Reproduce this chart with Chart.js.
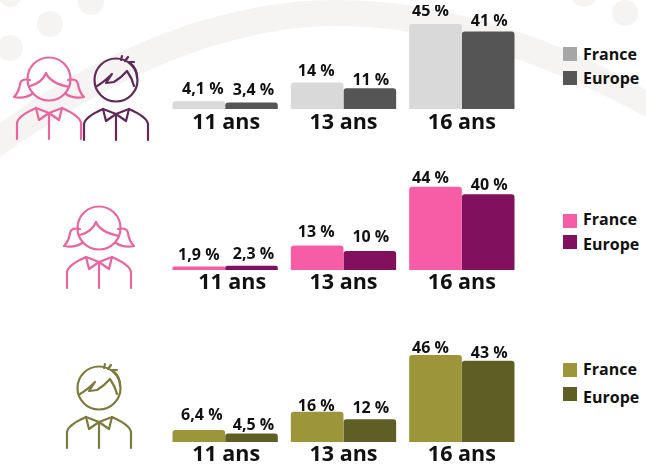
<!DOCTYPE html>
<html lang="fr">
<head>
<meta charset="utf-8">
<title>Consommation par âge</title>
<script src="https://cdn.jsdelivr.net/npm/chart.js@4"></script>
<style>
    html, body { margin: 0; padding: 0; background: #fff; }
    #page { position: relative; width: 646px; height: 465px; overflow: hidden; font-family: "Open Sans", sans-serif; }
    #decor, #icons { position: absolute; left: 0; top: 0; }
    canvas { position: absolute; left: 166px; }
    .swatch { position: absolute; left: 563px; width: 14px; height: 14px; }
    .legend-text { position: absolute; left: 583px; font-weight: bold; font-size: 16px; line-height: 20px; color: #111; }
</style>
</head>
<body>
<div id="page">
    <svg id="decor" width="646" height="465">
        <path fill="#f5f4f3" d="M0 123 C100 50 220 0 335 0 C450 0 560 40 646 90 V117 C560 70 450 26 335 26 C220 26 100 85 0 157 Z"/>
        <circle cx="91" cy="2" r="13" fill="#f5f4f3"/>
        <circle cx="50" cy="24" r="13" fill="#f5f4f3"/>
        <circle cx="10" cy="48" r="13" fill="#f5f4f3"/>
        <circle cx="10" cy="-4" r="11" fill="#f5f4f3"/>
        <circle cx="584" cy="-6" r="13" fill="#f5f4f3"/>
        <circle cx="625" cy="13" r="13" fill="#f5f4f3"/>
    </svg>
    <svg id="icons" width="646" height="465" fill="none" stroke-width="2.2" stroke-linejoin="round" stroke-linecap="round">
        <defs>
            <g id="body">
                <path d="M-32 60 V44 Q-31 37 -13 29 L-10 41 L0 34 L10 41 L13 29 Q31 37 32 44 V60"/>
                <path d="M-13 29 L0 34 L13 29 M0 34 V60"/>
            </g>
            <g id="girl">
                <circle r="21.5"/>
                <path d="M-19 7 Q-7 4 -3 -6 Q1 4 20 8"/>
                <path d="M-19 1 Q-28 -1 -29 5 Q-30 13 -35 18 Q-24 20 -17 15"/>
                <path d="M19 1 Q28 -1 29 5 Q30 13 35 18 Q24 20 17 15"/>
                <use href="#body"/>
            </g>
            <g id="boy">
                <circle r="21.5"/>
                <path d="M-19 6 Q-12 2 -4 -6 L-10 3 L-2 2 Q6 -3 11 -9 Q16 -2 18 6 M21 -2 Q21 -12 14 -17"/>
                <path d="M5 -20 L6 -24 M9 -19 L12 -23 M13 -18 L18 -18"/>
                <use href="#body"/>
            </g>
        </defs>
        <use href="#girl" x="49" y="79" stroke="#e9659f"/>
        <use href="#boy" x="116" y="80" stroke="#5e2a58"/>
        <use href="#girl" x="99" y="228" stroke="#e9659f"/>
        <use href="#boy" x="99" y="388" stroke="#7d7a3d"/>
    </svg>

    <canvas id="chart-all" width="355" height="134" style="top:5px"></canvas>
    <canvas id="chart-girls" width="355" height="134" style="top:166px"></canvas>
    <canvas id="chart-boys" width="355" height="134" style="top:338px"></canvas>

    <div class="swatch" style="top:47px;background:#a6a6a6"></div>
    <div class="legend-text" style="top:44px">France</div>
    <div class="swatch" style="top:71px;background:#555555"></div>
    <div class="legend-text" style="top:68px">Europe</div>

    <div class="swatch" style="top:214px;background:#f75ca6"></div>
    <div class="legend-text" style="top:209px">France</div>
    <div class="swatch" style="top:235px;background:#81105e"></div>
    <div class="legend-text" style="top:234px">Europe</div>

    <div class="swatch" style="top:363px;background:#9c9539"></div>
    <div class="legend-text" style="top:359px">France</div>
    <div class="swatch" style="top:387px;background:#5f5f25"></div>
    <div class="legend-text" style="top:387px">Europe</div>
</div>

<script>
// Data
const ages = ['11 ans', '13 ans', '16 ans'];
const seriesNames = ['France', 'Europe'];

const allFrance = [4.1, 14, 45];
const allEurope = [3.4, 11, 41];
const girlsFrance = [1.9, 13, 44];
const girlsEurope = [2.3, 10, 40];
const boysFrance = [6.4, 16, 46];
const boysEurope = [4.5, 12, 43];

// Formats a value the French way: 4,1 % / 14 %
function formatValue(value) {
    return String(value).replace('.', ',') + ' %';
}

// Draws the value labels and the age labels from the chart's own scales
const labelsPlugin = {
    id: 'barLabels',
    afterDatasetsDraw(chart, args, opts) {
        const ctx = chart.ctx;
        const xScale = chart.scales.x;
        ctx.save();
        ctx.fillStyle = '#111';
        ctx.textAlign = 'center';
        ctx.textBaseline = 'middle';

        ctx.font = 'bold 16px "Open Sans"';
        chart.data.datasets.forEach((dataset, d) => {
            chart.getDatasetMeta(d).data.forEach((bar, i) => {
                ctx.fillText(formatValue(dataset.data[i]), bar.x + opts.dx[d][i], bar.y + opts.dy[d][i]);
            });
        });

        ctx.font = 'bold 21.5px "Open Sans"';
        ages.forEach((age, i) => {
            ctx.fillText(age, xScale.getPixelForValue(i) + opts.ageDx[i], chart.chartArea.bottom + opts.ageDy);
        });
        ctx.restore();
    }
};

function makeChart(id, france, europe, colors, labelOpts) {
    return new Chart(document.getElementById(id), {
        type: 'bar',
        data: {
            labels: ages,
            datasets: [
                { label: seriesNames[0], data: france, backgroundColor: colors[0] },
                { label: seriesNames[1], data: europe, backgroundColor: colors[1] }
            ]
        },
        options: {
            responsive: false,
            animation: false,
            layout: { padding: { bottom: 30 } },
            datasets: {
                bar: {
                    barPercentage: 1,
                    categoryPercentage: 0.89,
                    borderRadius: { topLeft: 3, topRight: 3 }
                }
            },
            scales: {
                x: { display: false },
                y: { display: false, min: 0, max: 55 }
            },
            plugins: {
                legend: { display: false },
                tooltip: { enabled: false },
                barLabels: labelOpts
            }
        },
        plugins: [labelsPlugin]
    });
}

makeChart('chart-all', allFrance, allEurope, ['#d9d9d9', '#555555'], {
    dx: [[4, -1, -5], [2, 1, 1]],
    dy: [[-12, -11, -12], [-12, -8, -10]],
    ageDx: [1, 0, 0],
    ageDy: 14
});
makeChart('chart-girls', girlsFrance, girlsEurope, ['#f75ca6', '#81105e'], {
    dx: [[0, -1, -5], [2, 1, 1]],
    dy: [[-11, -13, -8], [-11, -14, -9]],
    ageDx: [7, 0, 0],
    ageDy: 13
});
makeChart('chart-boys', boysFrance, boysEurope, ['#9c9539', '#5f5f25'], {
    dx: [[3, -1, -5], [2, 1, 1]],
    dy: [[-14, -5, -7], [-8, -11, -7]],
    ageDx: [1, 0, 0],
    ageDy: 13
});
</script>
</body>
</html>
